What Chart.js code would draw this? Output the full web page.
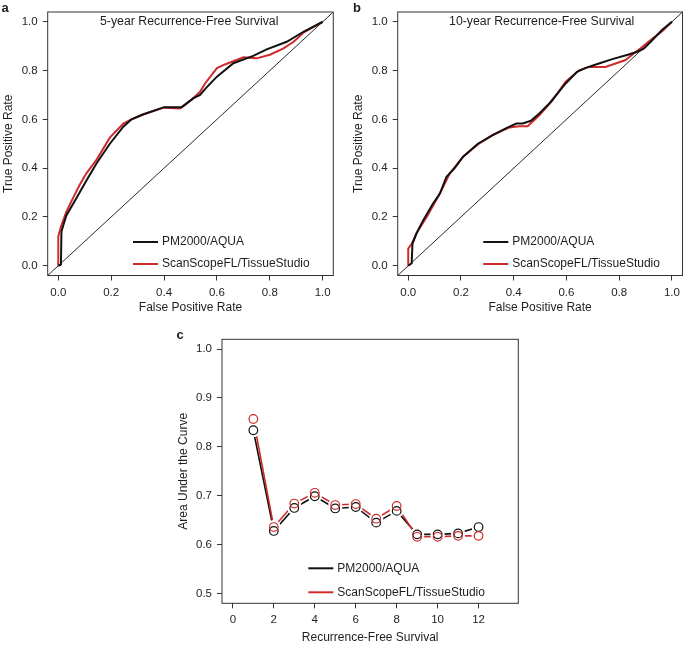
<!DOCTYPE html>
<html>
<head>
<meta charset="utf-8">
<script src="https://cdn.jsdelivr.net/npm/chart.js@4.4.1/dist/chart.umd.min.js"></script>
<style>
  body { margin: 0; background: #fff; }
  #wrap { position: relative; width: 685px; height: 645px; }
  canvas { position: absolute; }
</style>
</head>
<body>
<div id="wrap">
  <canvas id="rocFive" width="340" height="320" style="left:0;top:0;width:340px;height:320px;"></canvas>
  <canvas id="rocTen" width="345" height="320" style="left:340px;top:0;width:345px;height:320px;"></canvas>
  <canvas id="aucYears" width="360" height="345" style="left:170px;top:300px;width:360px;height:345px;"></canvas>
</div>
<script>
"use strict";

// Series names and colours
var seriesNames = ["PM2000/AQUA", "ScanScopeFL/TissueStudio"];
var black = "#111111";
var red = "#d02b2b";
var textColor = "#1e1e1e";
var frameColor = "#333333";
var fontFamily = "'Liberation Sans', Arial, Helvetica, sans-serif";

// a: 5-year ROC curves
var fpr5Pm  = [0, 0.01, 0.012, 0.03, 0.07, 0.107, 0.145, 0.195, 0.246, 0.277, 0.32, 0.40, 0.467, 0.51, 0.536, 0.56, 0.60, 0.662, 0.737, 0.788, 0.864, 0.927, 0.965, 1];
var tpr5Pm  = [0, 0.005, 0.14, 0.205, 0.28, 0.35, 0.42, 0.50, 0.57, 0.60, 0.62, 0.65, 0.65, 0.686, 0.70, 0.73, 0.775, 0.83, 0.86, 0.887, 0.918, 0.959, 0.98, 1];
var fpr5Scan = [0, 0, 0.01, 0.03, 0.05, 0.08, 0.107, 0.145, 0.195, 0.246, 0.271, 0.32, 0.40, 0.46, 0.504, 0.536, 0.555, 0.60, 0.63, 0.70, 0.75, 0.80, 0.85, 0.89, 0.93, 1];
var tpr5Scan = [0, 0.12, 0.16, 0.22, 0.265, 0.33, 0.38, 0.435, 0.525, 0.583, 0.597, 0.62, 0.648, 0.645, 0.68, 0.713, 0.747, 0.81, 0.825, 0.854, 0.85, 0.865, 0.89, 0.918, 0.958, 1];

// b: 10-year ROC curves
var fpr10Pm  = [0, 0.013, 0.016, 0.03, 0.057, 0.094, 0.12, 0.145, 0.176, 0.208, 0.264, 0.32, 0.37, 0.41, 0.434, 0.465, 0.497, 0.535, 0.597, 0.64, 0.673, 0.723, 0.774, 0.836, 0.868, 0.893, 0.925, 0.962, 1];
var tpr10Pm  = [0, 0.01, 0.09, 0.13, 0.187, 0.255, 0.296, 0.365, 0.40, 0.447, 0.50, 0.535, 0.563, 0.583, 0.583, 0.594, 0.624, 0.665, 0.747, 0.795, 0.811, 0.829, 0.847, 0.866, 0.877, 0.89, 0.924, 0.966, 1];
var fpr10Scan = [0, 0, 0.013, 0.038, 0.07, 0.12, 0.157, 0.208, 0.264, 0.32, 0.384, 0.421, 0.453, 0.497, 0.547, 0.597, 0.648, 0.686, 0.748, 0.786, 0.824, 0.855, 0.88, 0.925, 0.962, 1];
var tpr10Scan = [0, 0.07, 0.09, 0.146, 0.20, 0.296, 0.378, 0.447, 0.497, 0.535, 0.567, 0.572, 0.572, 0.617, 0.678, 0.754, 0.801, 0.815, 0.815, 0.829, 0.843, 0.87, 0.89, 0.93, 0.96, 1];

// chance line y = x across the whole frame
var chanceLine = [-0.04, 1.04];

// c: AUC by year of recurrence-free survival
var rfsYears = [1, 2, 3, 4, 5, 6, 7, 8, 9, 10, 11, 12];
var aucPm   = [0.834, 0.628, 0.675, 0.699, 0.674, 0.677, 0.645, 0.669, 0.621, 0.621, 0.623, 0.636];
var aucScan = [0.857, 0.636, 0.684, 0.706, 0.681, 0.683, 0.653, 0.679, 0.616, 0.616, 0.618, 0.618];

// Tick labels
var rocTicks = [0, 0.2, 0.4, 0.6, 0.8, 1.0];
var aucTicks = [0.5, 0.6, 0.7, 0.8, 0.9, 1.0];
var yearTicks = [0, 2, 4, 6, 8, 10, 12];

function toPoints(xs, ys) {
    var pts = [];
    for (var i = 0; i < xs.length; i++) {
        pts.push({x: xs[i], y: ys[i]});
    }
    return pts;
}

// Frame, inner title, legend and panel letter
var panelDecor = {
    id: "panelDecor",
    afterDatasetsDraw: function(chart, args, opts) {
        var ctx = chart.ctx;
        var a = chart.chartArea;
        ctx.save();
        ctx.strokeStyle = frameColor;
        ctx.lineWidth = 1;
        ctx.strokeRect(a.left, a.top, a.right - a.left, a.bottom - a.top);

        ctx.fillStyle = textColor;
        ctx.font = "12.3px " + fontFamily;
        ctx.textBaseline = "middle";
        if (opts.title) {
            ctx.textAlign = "center";
            ctx.fillText(opts.title, opts.titleX, opts.titleY);
        }

        ctx.font = "12px " + fontFamily;
        var row = 0;
        chart.data.datasets.forEach(function(ds) {
            if (!ds.inLegend) return;
            var y = opts.legendY + row * opts.legendGap;
            ctx.strokeStyle = ds.borderColor;
            ctx.lineWidth = 2;
            ctx.beginPath();
            ctx.moveTo(opts.legendX, y);
            ctx.lineTo(opts.legendX + 25, y);
            ctx.stroke();
            ctx.textAlign = "left";
            ctx.fillText(ds.label, opts.legendX + 29, y);
            row++;
        });

        ctx.font = "bold 13px " + fontFamily;
        ctx.textBaseline = "alphabetic";
        ctx.textAlign = "left";
        ctx.fillText(opts.letter, opts.letterX, opts.letterY);
        ctx.restore();
    }
};

function makeAxis(opts) {
    return {
        type: "linear",
        min: opts.min,
        max: opts.max,
        afterBuildTicks: function(scale) {
            scale.ticks = opts.ticks.map(function(v) { return {value: v}; });
        },
        afterFit: function(scale) {
            if (opts.isY) scale.width = opts.size;
            else scale.height = opts.size;
        },
        grid: {display: true, drawOnChartArea: false, drawTicks: true, tickLength: 5, color: frameColor, lineWidth: 1},
        border: {display: false},
        ticks: {
            color: textColor,
            font: {size: 11.5, family: fontFamily},
            padding: 5,
            maxRotation: 0,
            autoSkip: false,
            callback: opts.format
        },
        title: {
            display: true,
            text: opts.title,
            color: textColor,
            font: {size: 12, family: fontFamily},
            padding: opts.isY ? {top: opts.titlePad, bottom: 0} : {top: 0, bottom: opts.titlePad}
        }
    };
}

function oneDecimal(v) { return v.toFixed(1); }
function integer(v) { return String(v); }

function drawRoc(id, title, fprPm, tprPm, fprScan, tprScan, layout) {
    var ctx = document.getElementById(id);
    new Chart(ctx, {
        type: "scatter",
        data: {
            datasets: [{
                label: seriesNames[0],
                data: toPoints(fprPm, tprPm),
                showLine: true,
                borderColor: black,
                borderWidth: 2,
                pointRadius: 0,
                tension: 0,
                order: 0,
                inLegend: true
            }, {
                label: seriesNames[1],
                data: toPoints(fprScan, tprScan),
                showLine: true,
                borderColor: red,
                borderWidth: 2,
                pointRadius: 0,
                tension: 0,
                order: 1,
                inLegend: true
            }, {
                label: "chance",
                data: toPoints(chanceLine, chanceLine),
                showLine: true,
                borderColor: black,
                borderWidth: 0.9,
                pointRadius: 0,
                order: 2
            }]
        },
        options: {
            responsive: false,
            animation: false,
            events: [],
            layout: {padding: {top: 12, right: layout.right, bottom: 0, left: 0}},
            scales: {
                x: makeAxis({min: -0.04, max: 1.04, ticks: rocTicks, isY: false, size: 44.5, format: oneDecimal,
                             title: "False Positive Rate", titlePad: 4.8}),
                y: makeAxis({min: -0.04, max: 1.04, ticks: rocTicks, isY: true, size: layout.yWidth, format: oneDecimal,
                             title: "True Positive Rate", titlePad: layout.yTitlePad})
            },
            plugins: {
                legend: {display: false},
                tooltip: {enabled: false},
                panelDecor: {
                    title: title, titleX: layout.titleX, titleY: 22,
                    legendX: layout.legendX, legendY: 242, legendGap: 22,
                    letter: layout.letter, letterX: layout.letterX, letterY: 12
                }
            }
        },
        plugins: [panelDecor]
    });
}

function drawAuc() {
    var ctx = document.getElementById("aucYears");
    var pmPts = toPoints(rfsYears, aucPm);
    var scanPts = toPoints(rfsYears, aucScan);
    new Chart(ctx, {
        type: "scatter",
        data: {
            datasets: [
                {label: seriesNames[0], data: pmPts, showLine: true, borderColor: black, borderWidth: 1.6, pointRadius: 0, order: 4, inLegend: true},
                {label: seriesNames[1], data: scanPts, showLine: true, borderColor: red, borderWidth: 1.6, pointRadius: 0, order: 3, inLegend: true},
                {label: "gapPm", data: pmPts, showLine: false, pointRadius: 7, pointBorderWidth: 0, pointBackgroundColor: "#ffffff", order: 2},
                {label: "gapScan", data: scanPts, showLine: false, pointRadius: 7, pointBorderWidth: 0, pointBackgroundColor: "#ffffff", order: 2},
                {label: "ptsPm", data: pmPts, showLine: false, pointRadius: 4.3, pointBorderWidth: 1.2, pointBorderColor: black, pointBackgroundColor: "rgba(0,0,0,0)", order: 1},
                {label: "ptsScan", data: scanPts, showLine: false, pointRadius: 4.3, pointBorderWidth: 1.2, pointBorderColor: red, pointBackgroundColor: "rgba(0,0,0,0)", order: 0}
            ]
        },
        options: {
            responsive: false,
            animation: false,
            events: [],
            layout: {padding: {top: 39.3, right: 11.7, bottom: 0, left: 0}},
            scales: {
                x: makeAxis({min: -0.53, max: 13.94, ticks: yearTicks, isY: false, size: 41.7, format: integer,
                             title: "Recurrence-Free Survival", titlePad: 0.5}),
                y: makeAxis({min: 0.48, max: 1.02, ticks: aucTicks, isY: true, size: 52, format: oneDecimal,
                             title: "Area Under the Curve", titlePad: 6})
            },
            plugins: {
                legend: {display: false},
                tooltip: {enabled: false},
                panelDecor: {
                    title: "", legendX: 138.3, legendY: 268.3, legendGap: 24,
                    letter: "c", letterX: 6.5, letterY: 39
                }
            }
        },
        plugins: [panelDecor]
    });
}

function init() {
    drawRoc("rocFive", "5-year Recurrence-Free Survival", fpr5Pm, tpr5Pm, fpr5Scan, tpr5Scan,
        {right: 6.7, yWidth: 47.7, yTitlePad: 1.1, titleX: 189.2, legendX: 133, letter: "a", letterX: 1.5});
    drawRoc("rocTen", "10-year Recurrence-Free Survival", fpr10Pm, tpr10Pm, fpr10Scan, tpr10Scan,
        {right: 1.5, yWidth: 57.7, yTitlePad: 11.8, titleX: 201.7, legendX: 143.3, letter: "b", letterX: 13});
    drawAuc();
}

window.onload = init;
</script>
</body>
</html>
